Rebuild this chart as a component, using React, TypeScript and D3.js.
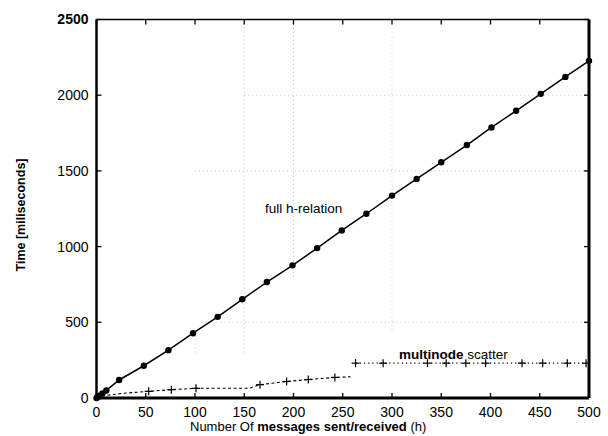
import React from "react";
import * as d3 from "d3";

const xTicks = [0, 50, 100, 150, 200, 250, 300, 350, 400, 450, 500];
const yTicks = [0, 500, 1000, 1500, 2000, 2500];

// full h-relation
const fullH = [0, 1, 3, 6, 10, 23, 48, 73, 98, 123, 148, 173, 199, 224, 249, 274, 300, 325, 350, 376, 401, 426, 451, 476, 500];
const fullT = [0, 5, 15, 30, 50, 119, 213, 316, 428, 536, 652, 766, 876, 990, 1107, 1217, 1337, 1447, 1557, 1671, 1787, 1897, 2009, 2121, 2227];

// multinode scatter (lower dashed part)
const scatLowH = [0, 25, 53, 76, 101, 155, 166, 193, 215, 242, 258];
const scatLowT = [8, 30, 44, 55, 64, 64, 88, 109, 122, 136, 140];
const scatLowMark = [false, false, true, true, true, false, true, true, true, true, false];

// multinode scatter (upper dotted part)
const scatHighH = [263, 291, 336, 355, 375, 395, 432, 453, 478, 497];
const scatHighT = [230, 230, 230, 230, 230, 230, 230, 230, 230, 230];

// faint grid fragments visible in the scan: [h0, t0, h1, t1]
const gridH = [
  [110, 500, 500, 500],
  [100, 1500, 500, 1500],
  [150, 2000, 500, 2000],
];
const gridV = [
  [150, 300, 150, 2500],
  [200, 800, 200, 2500],
  [300, 450, 300, 2400],
  [100, 300, 100, 450],
];

export default function App() {
  const W = 608, H = 436;
  const x = d3.scaleLinear().domain([0, 500]).range([96.5, 589]);
  const y = d3.scaleLinear().domain([0, 2500]).range([398, 19.5]);
  const line = d3.line<[number, number]>().x(d => x(d[0])).y(d => y(d[1]));
  const full = fullH.map((h, i) => [h, fullT[i]] as [number, number]);
  const low = scatLowH.map((h, i) => [h, scatLowT[i]] as [number, number]);
  const high = scatHighH.map((h, i) => [h, scatHighT[i]] as [number, number]);
  const font = "'Liberation Sans', Arial, Helvetica, sans-serif";
  const plus = (cx: number, cy: number, k: string) => (
    <g key={k} stroke="#000" strokeWidth={1.2}>
      <line x1={cx - 4} x2={cx + 4} y1={cy} y2={cy} />
      <line x1={cx} x2={cx} y1={cy - 4} y2={cy + 4} />
    </g>
  );
  return (
    <svg width={W} height={H} style={{ position: "absolute", left: 0, top: 0, background: "#fff" }} fontFamily={font}>
      <rect x={0} y={0} width={W} height={H} fill="#fff" />
      {/* grid fragments */}
      <g stroke="#aaa" strokeWidth={0.7} strokeDasharray="1,3">
        {gridH.map((g, i) => <line key={"gh" + i} x1={x(g[0])} x2={x(g[2])} y1={y(g[1])} y2={y(g[3])} />)}
        {gridV.map((g, i) => <line key={"gv" + i} x1={x(g[0])} x2={x(g[2])} y1={y(g[1])} y2={y(g[3])} />)}
      </g>
      {/* ticks */}
      <g stroke="#000" strokeWidth={1.3}>
        {xTicks.map(t => (
          <g key={"xt" + t}>
            <line x1={x(t)} x2={x(t)} y1={y(0)} y2={y(0) - 5} />
            <line x1={x(t)} x2={x(t)} y1={y(2500)} y2={y(2500) + 5} />
          </g>
        ))}
        {yTicks.map(t => (
          <g key={"yt" + t}>
            <line x1={x(0)} x2={x(0) + 5} y1={y(t)} y2={y(t)} />
            <line x1={x(500)} x2={x(500) - 5} y1={y(t)} y2={y(t)} />
          </g>
        ))}
      </g>
      {/* axes frame */}
      <line x1={x(0)} x2={x(500)} y1={y(2500)} y2={y(2500)} stroke="#000" strokeWidth={1.5} />
      <line x1={x(0)} x2={x(0)} y1={y(2500)} y2={y(0)} stroke="#000" strokeWidth={2.5} />
      <line x1={x(500)} x2={x(500)} y1={y(2500)} y2={y(0)} stroke="#000" strokeWidth={3} />
      <line x1={x(0)} x2={x(500)} y1={y(0)} y2={y(0)} stroke="#000" strokeWidth={3} />
      {/* full h-relation */}
      <path d={line(full) || ""} fill="none" stroke="#000" strokeWidth={1.5} />
      {full.map((d, i) => <circle key={"f" + i} cx={x(d[0])} cy={y(d[1])} r={3.2} fill="#000" />)}
      {/* multinode scatter */}
      <path d={line(low) || ""} fill="none" stroke="#000" strokeWidth={1.1} strokeDasharray="3,2.5" />
      {low.map((d, i) => scatLowMark[i] ? plus(x(d[0]), y(d[1]), "l" + i) : null)}
      <path d={line(high) || ""} fill="none" stroke="#000" strokeWidth={1.2} strokeDasharray="1.2,3" />
      {high.map((d, i) => plus(x(d[0]), y(d[1]), "h" + i))}
      {/* tick labels */}
      <g fontSize={14} fill="#000">
        {yTicks.map(t => (
          <text key={"yl" + t} x={x(0) - 8} y={y(t)} dy="0.35em" textAnchor="end" fontWeight={t === 2500 ? "bold" : "normal"}>{t}</text>
        ))}
        {xTicks.map(t => (
          <text key={"xl" + t} x={x(t)} y={417} textAnchor="middle">{t}</text>
        ))}
      </g>
      {/* axis titles */}
      <text transform={`translate(25,215) rotate(-90)`} textAnchor="middle" fontSize={12.5} fontWeight="bold">Time [miliseconds]</text>
      <text x={190} y={431} fontSize={13}>
        Number Of <tspan fontWeight="bold">messages sent/received</tspan> (h)
      </text>
      {/* series labels */}
      <text x={265} y={213} fontSize={13.5}>full h-relation</text>
      <text x={399} y={359} fontSize={13.5}>
        <tspan fontWeight="bold">multinode</tspan> scatter
      </text>
    </svg>
  );
}
